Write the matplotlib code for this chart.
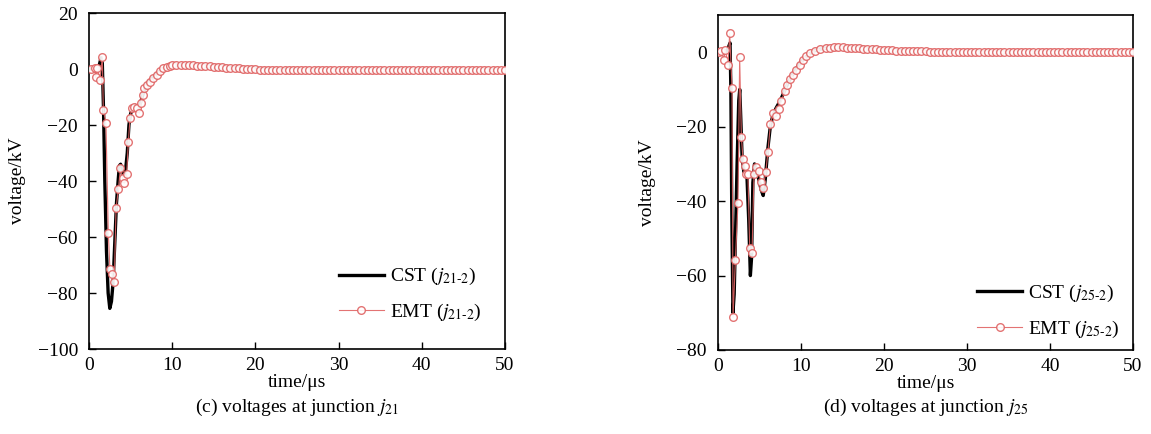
import matplotlib
matplotlib.use("Agg")
import matplotlib.pyplot as plt

plt.rcParams['font.family'] = ['Liberation Serif', 'DejaVu Serif']
plt.rcParams['mathtext.fontset'] = 'stix'
plt.rcParams['axes.unicode_minus'] = True

# ---------------- panel (c): junction j21 ----------------
cst_t_c = [0, 0.5, 0.9, 1.2, 1.45, 1.6, 1.75, 1.9, 2.1, 2.3, 2.5, 2.7, 2.9, 3.1, 3.3,
           3.5, 3.65, 3.8, 4.0, 4.2, 4.4, 4.6, 4.8, 5.0, 5.3, 5.6, 6.0, 6.3, 6.6, 7.0,
           7.5, 8.0, 8.5, 9.0, 9.5, 10, 11, 12, 13, 14, 16, 18, 20, 22, 25, 30, 35,
           40, 45, 50]
cst_v_c = [0, 0.5, 0.5, 1.0, 4.0, 2.0, -15, -40, -65, -80, -85.5, -83, -76, -62, -48,
           -40, -34.5, -34, -37, -38, -36, -30, -20, -16, -13.5, -13, -14, -11, -8, -5,
           -3.5, -2, -0.8, 0.3, 0.9, 1.3, 1.5, 1.4, 1.2, 1.0, 0.6, 0.3, 0.0, -0.2, -0.3,
           -0.4, -0.4, -0.4, -0.4, -0.4]

emt_t_c = [0.3, 0.72, 0.8, 1.0, 1.32, 1.6, 1.72, 2.04, 2.32, 2.52, 2.80, 3.04, 3.25,
           3.53, 3.77, 4.05, 4.24, 4.53, 4.73, 4.93, 5.13, 5.45, 5.73, 6.05, 6.25, 6.45,
           6.6, 6.93, 7.33, 7.73, 8.13, 8.53, 8.93, 9.33, 9.73,
           10.0, 10.5, 11.0, 11.5, 12.0, 12.5, 13.0, 13.5, 14.0, 14.5, 15.0, 15.5, 16.0,
           16.5, 17.0, 17.5, 18.0, 18.5, 19.0, 19.5, 20.0, 20.5, 21.0, 21.5, 22.0, 22.5,
           23.0, 23.5, 24.0, 24.5, 25.0, 25.5, 26.0, 26.5, 27.0, 27.5, 28.0, 28.5, 29.0,
           29.5, 30.0, 30.5, 31.0, 31.5, 32.0, 32.5, 33.0, 33.5, 34.0, 34.5, 35.0, 35.5,
           36.0, 36.5, 37.0, 37.5, 38.0, 38.5, 39.0, 39.5, 40.0, 40.5, 41.0, 41.5, 42.0,
           42.5, 43.0, 43.5, 44.0, 44.5, 45.0, 45.5, 46.0, 46.5, 47.0, 47.5, 48.0, 48.5,
           49.0, 49.5, 50.0]
emt_v_c = [0, 0.2, -3, 0.5, -3.9, 4.4, -14.6, -19.4, -58.7, -71.5, -73.2, -76.2, -49.8,
           -43, -35.5, -39, -40.8, -37.6, -25.9, -17.6, -14, -13.5, -14, -15.8, -12.3,
           -9.3, -6.9, -5.7, -4.5, -3.3, -2.1, -0.6, 0.2, 0.8, 1.2,
           1.3, 1.4, 1.5, 1.5, 1.4, 1.3, 1.2, 1.1, 1.0, 0.9, 0.8, 0.7, 0.6,
           0.5, 0.4, 0.3, 0.2, 0.1, 0.0, -0.1, -0.1, -0.2, -0.2, -0.3, -0.3, -0.3,
           -0.4, -0.4, -0.4, -0.4, -0.4, -0.5, -0.5, -0.5, -0.5, -0.5, -0.5, -0.5, -0.5,
           -0.5, -0.5, -0.5, -0.5, -0.5, -0.5, -0.5, -0.5, -0.5, -0.5, -0.5, -0.5, -0.5,
           -0.5, -0.5, -0.5, -0.5, -0.5, -0.5, -0.5, -0.5, -0.5, -0.5, -0.5, -0.5, -0.5,
           -0.5, -0.5, -0.5, -0.5, -0.5, -0.5, -0.5, -0.5, -0.5, -0.5, -0.5, -0.5, -0.5,
           -0.5, -0.5, -0.5]

# ---------------- panel (d): junction j25 ----------------
cst_t_d = [0, 0.5, 0.9, 1.2, 1.45, 1.55, 1.65, 1.8, 1.95, 2.1, 2.3, 2.5, 2.62, 2.75, 2.9,
           3.1, 3.3, 3.5, 3.7, 3.9, 4.05, 4.2, 4.4, 4.6, 4.9, 5.2, 5.45, 5.7, 6.0, 6.3,
           6.6, 7.0, 7.5, 8, 8.5, 9, 9.5, 10, 10.5, 11, 11.5, 12, 13, 14, 15, 16, 18, 20,
           22, 25, 30, 35, 40, 45, 50]
cst_v_d = [0, 0, 0, 1, 2.5, -10, -40, -70, -65, -50, -30, -13, -10, -18, -28,
           -32, -33, -34, -45, -60, -55, -35, -30, -32, -34, -37, -38.5, -34, -26, -20,
           -17, -15, -13, -10.5, -8, -6, -4.2, -2.6, -1.4, -0.5, 0.2, 0.7, 1.1, 1.3, 1.3,
           1.2, 0.9, 0.6, 0.4, 0.2, 0.1, 0.0, 0.0, 0.0, 0.0]

emt_t_d = [0.1, 0.41, 0.69, 0.89, 1.2, 1.41, 1.69, 1.81, 2.1, 2.41, 2.61, 2.82, 3.01,
           3.22, 3.42, 3.61, 3.82, 4.1, 4.34, 4.62, 4.9, 5.14, 5.42, 5.75, 6.02, 6.31,
           6.63, 7.0, 7.31, 7.63, 8.04, 8.31, 8.64, 9.04, 9.45, 9.84, 10.24, 10.65,
           11.05, 11.65, 12.25, 13.06,
           13.5, 14.0, 14.5, 15.0, 15.5, 16.0, 16.5, 17.0, 17.5, 18.0, 18.5, 19.0, 19.5,
           20.0, 20.5, 21.0, 21.5, 22.0, 22.5, 23.0, 23.5, 24.0, 24.5, 25.0, 25.5, 26.0,
           26.5, 27.0, 27.5, 28.0, 28.5, 29.0, 29.5, 30.0, 30.5, 31.0, 31.5, 32.0, 32.5,
           33.0, 33.5, 34.0, 34.5, 35.0, 35.5, 36.0, 36.5, 37.0, 37.5, 38.0, 38.5, 39.0,
           39.5, 40.0, 40.5, 41.0, 41.5, 42.0, 42.5, 43.0, 43.5, 44.0, 44.5, 45.0, 45.5,
           46.0, 46.5, 47.0, 47.5, 48.0, 48.5, 49.0, 49.5, 50.0]
emt_v_d = [0, 0.4, -2, 0.6, -3.4, 5.1, -9.6, -71.2, -55.7, -40.4, -1.4, -22.9, -28.6,
           -30.7, -32.7, -32.8, -52.6, -53.9, -32.6, -30.8, -31.9, -34.8, -36.6, -32.2,
           -26.8, -19.3, -16.2, -17.1, -15.3, -13.1, -10.5, -8.7, -7.3, -6.0, -4.7, -3.4,
           -2.0, -1.1, -0.3, 0.4, 0.8, 1.1,
           1.2, 1.3, 1.3, 1.3, 1.25, 1.2, 1.1, 1.0, 0.95, 0.9, 0.8, 0.75, 0.7,
           0.6, 0.55, 0.5, 0.45, 0.4, 0.35, 0.3, 0.3, 0.25, 0.2, 0.2, 0.15, 0.15,
           0.1, 0.1, 0.1, 0.1, 0.05, 0.05, 0.05, 0.0, 0.0, 0.0, 0.0, 0.0, 0.0,
           0.0, 0.0, 0.0, 0.0, 0.0, 0.0, 0.0, 0.0, 0.0, 0.0, 0.0, 0.0, 0.0,
           0.0, 0.0, 0.0, 0.0, 0.0, 0.0, 0.0, 0.0, 0.0, 0.0, 0.0, 0.0, 0.0,
           0.0, 0.0, 0.0, 0.0, 0.0, 0.0, 0.0, 0.0, 0.0]

panels = [
    dict(cst_t=cst_t_c, cst_v=cst_v_c, emt_t=emt_t_c, emt_v=emt_v_c,
         ylim=(-100, 20), yticks=[-100, -80, -60, -40, -20, 0, 20],
         sub='21', pos=[89/1151, 1-349/434, 416/1151, 336/434],
         leg_anchor=(0.985, 0.025), ylab_x=-0.151,
         caption='(c) voltages at junction $j_{21}$'),
    dict(cst_t=cst_t_d, cst_v=cst_v_d, emt_t=emt_t_d, emt_v=emt_v_d,
         ylim=(-80, 10), yticks=[-80, -60, -40, -20, 0],
         sub='25', pos=[718/1151, 1-350/434, 415/1151, 335/434],
         leg_anchor=(1.01, -0.022), ylab_x=-0.149,
         caption='(d) voltages at junction $j_{25}$'),
]

fig = plt.figure(figsize=(11.51, 4.34), dpi=100)
emt_color = '#e06464'
for p in panels:
    ax = fig.add_axes(p['pos'])
    ax.plot(p['cst_t'], p['cst_v'], color='black', lw=2.4,
            label=r'CST ($j_{\mathrm{%s\text{-}2}}$)' % p['sub'], zorder=2)
    ax.plot(p['emt_t'], p['emt_v'], color=emt_color, lw=0.8, alpha=0.9,
            marker='o', markersize=5.5, markerfacecolor='white',
            markeredgecolor=emt_color, markeredgewidth=1.0,
            label=r'EMT ($j_{\mathrm{%s\text{-}2}}$)' % p['sub'], zorder=3)
    ax.set_xlim(0, 50)
    ax.set_ylim(*p['ylim'])
    ax.set_xticks([0, 10, 20, 30, 40, 50])
    ax.set_yticks(p['yticks'])
    ax.tick_params(direction='in', length=5, width=1, labelsize=14,
                   top=False, right=False)
    ax.tick_params(axis='y', pad=8)
    ax.tick_params(axis='x', pad=6)
    for s in ax.spines.values():
        s.set_linewidth(1.2)
    ax.set_xlabel('time/μs', fontsize=14, labelpad=0)
    ax.set_ylabel('voltage/kV', fontsize=14)
    ax.yaxis.set_label_coords(p['ylab_x'], 0.5)
    ax.legend(loc='lower right', bbox_to_anchor=p['leg_anchor'], frameon=False,
              fontsize=14, handlelength=2.3, labelspacing=0.75, handletextpad=0.3)
    x0, y0, w, h = p['pos']
    fig.text(x0 + w/2, 1-407/434, p['caption'], ha='center', va='center', fontsize=14)

fig.savefig('out.png', dpi=100)
